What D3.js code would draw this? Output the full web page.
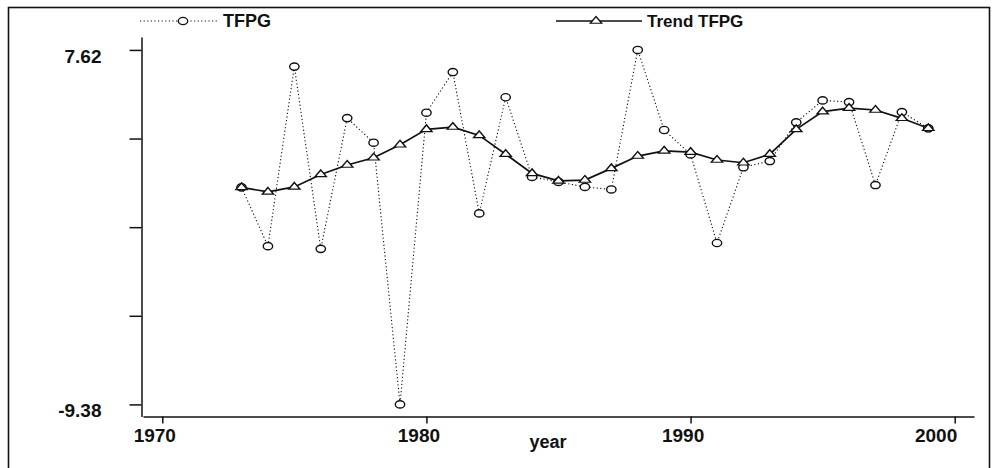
<!DOCTYPE html>
<html>
<head>
<meta charset="utf-8">
<script src="https://cdn.jsdelivr.net/npm/d3@7"></script>
<style>
  body { margin: 0; background: #fff; }
  svg text { font-family: "Liberation Sans", Arial, sans-serif; font-weight: bold; fill: #111; }
</style>
</head>
<body>
<svg id="chart" width="992" height="468"></svg>
<script>
// years and the two series
const years = d3.range(1973, 2000);
const tfpg = [1.03, -1.79, 6.82, -1.92, 4.35, 3.17, -9.38, 4.61, 6.56, -0.22,
              5.35, 1.53, 1.29, 1.05, 0.93, 7.62, 3.78, 2.61, -1.64, 1.99,
              2.29, 4.15, 5.20, 5.12, 1.14, 4.64, 3.86];
const trend = [1.03, 0.81, 1.05, 1.65, 2.10, 2.45, 3.07, 3.81, 3.92, 3.52,
               2.62, 1.70, 1.34, 1.38, 1.94, 2.53, 2.78, 2.72, 2.34, 2.21,
               2.62, 3.81, 4.66, 4.83, 4.74, 4.34, 3.86];
const xTicks = [1970, 1980, 1990, 2000];
const yTicks = [-9.38, -5.13, -0.88, 3.37, 7.62];
const yLabels = ["-9.38", "", "", "", "7.62"];
const seriesNames = ["TFPG", "Trend TFPG"];

const svg = d3.select("#chart");

// outer frame of the scanned page
svg.append("rect")
   .attr("x", 8.5).attr("y", 7.5)
   .attr("width", 981).attr("height", 480)
   .attr("fill", "none").attr("stroke", "#111").attr("stroke-width", 1.6);

const x = d3.scaleLinear().domain([1969.27, 2000.73]).range([143, 974]);
const y = d3.scaleLinear().domain([-9.96, 8.24]).range([416.5, 37]);

// x axis
const gx = svg.append("g").attr("transform", "translate(0,416.5)")
   .call(d3.axisBottom(x).tickValues(xTicks).tickFormat(d3.format("d"))
           .tickSize(7).tickSizeOuter(0).tickPadding(5));
gx.selectAll("text")
   .style("font-size", "19px")
   .attr("text-anchor", (d, i) => i === xTicks.length - 1 ? "end" : "middle")
   .attr("dx", (d, i) => i === xTicks.length - 1 ? 2 : -8);

// y axis
const gy = svg.append("g").attr("transform", "translate(141.5,0)")
   .call(d3.axisLeft(y).tickValues(yTicks).tickFormat((d, i) => yLabels[i])
           .tickSize(12).tickSizeOuter(0).tickPadding(28));
gy.selectAll("text").style("font-size", "19px").attr("dy", "0.65em");

svg.selectAll(".domain, .tick line").attr("stroke", "#111").attr("stroke-width", 1.5);

svg.append("text")
   .attr("x", 548).attr("y", 448)
   .attr("text-anchor", "middle")
   .style("font-size", "18px")
   .text("year");

// lines
const line = d3.line().x((d, i) => x(years[i])).y(d => y(d));

svg.append("path").datum(tfpg)
   .attr("d", line)
   .attr("fill", "none").attr("stroke", "#111")
   .attr("stroke-width", 1.1).attr("stroke-dasharray", "1.2,2.4");

svg.append("path").datum(trend)
   .attr("d", line)
   .attr("fill", "none").attr("stroke", "#111").attr("stroke-width", 1.7);

const tri = d3.symbol().type(d3.symbolTriangle).size(36);

// markers
svg.selectAll(".circ").data(tfpg).join("ellipse")
   .attr("class", "circ")
   .attr("cx", (d, i) => x(years[i])).attr("cy", d => y(d))
   .attr("rx", 4.7).attr("ry", 3.6)
   .attr("fill", "#fff").attr("stroke", "#111").attr("stroke-width", 1.4);

svg.selectAll(".tri").data(trend).join("path")
   .attr("class", "tri")
   .attr("d", tri)
   .attr("transform", (d, i) => `translate(${x(years[i])},${y(d)}) scale(1.25,0.85)`)
   .attr("fill", "#fff").attr("stroke", "#111").attr("stroke-width", 1.3);

// legend
const leg = svg.append("g");
leg.append("line").attr("x1", 140).attr("x2", 218).attr("y1", 21).attr("y2", 21)
   .attr("stroke", "#111").attr("stroke-width", 1.1).attr("stroke-dasharray", "1.2,2.4");
leg.append("ellipse").attr("cx", 183).attr("cy", 21).attr("rx", 4.7).attr("ry", 3.6)
   .attr("fill", "#fff").attr("stroke", "#111").attr("stroke-width", 1.4);
leg.append("text").attr("x", 223).attr("y", 27).style("font-size", "18px")
   .text(seriesNames[0]);

leg.append("line").attr("x1", 556).attr("x2", 642).attr("y1", 21).attr("y2", 21)
   .attr("stroke", "#111").attr("stroke-width", 1.5);
leg.append("path").attr("d", tri)
   .attr("transform", "translate(596,21) scale(1.25,0.85)")
   .attr("fill", "#fff").attr("stroke", "#111").attr("stroke-width", 1.3);
leg.append("text").attr("x", 647).attr("y", 27).style("font-size", "17px")
   .text(seriesNames[1]);
</script>
</body>
</html>
